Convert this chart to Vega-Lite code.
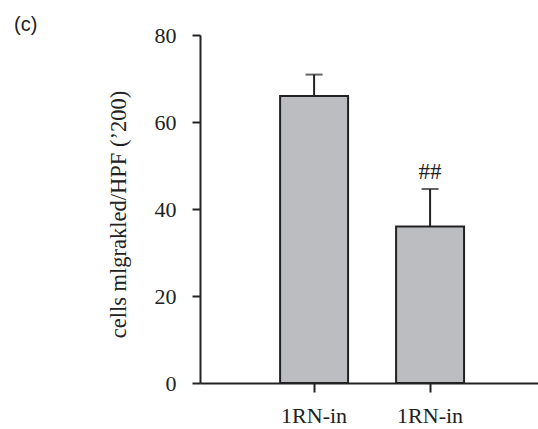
{
  "$schema": "https://vega.github.io/schema/vega-lite/v6.json",
  "autosize": "none",
  "width": 338,
  "height": 348,
  "padding": {"left": 200, "top": 35, "right": 0, "bottom": 46},
  "background": "white",
  "title": {
    "text": "(c)",
    "anchor": "start",
    "frame": "group",
    "font": "Liberation Sans",
    "fontSize": 20,
    "fontWeight": "normal",
    "color": "#222",
    "dx": -186,
    "offset": 0,
    "baseline": "middle",
    "dy": 21
  },
  "config": {
    "view": {"stroke": null},
    "axis": {
      "domainColor": "#222",
      "domainWidth": 2,
      "tickColor": "#222",
      "tickWidth": 2,
      "labelFont": "Liberation Serif",
      "labelFontSize": 22,
      "labelColor": "#222",
      "titleFont": "Liberation Serif",
      "titleFontSize": 22.5,
      "titleFontWeight": "normal",
      "titleColor": "#222",
      "grid": false
    }
  },
  "data": {
    "values": [
      {"group": "a", "label": "1RN-in", "value": 66.0, "upper": 70.9, "sig": ""},
      {"group": "b", "label": "1RN-in", "value": 36.0, "upper": 44.6, "sig": "##"}
    ]
  },
  "encoding": {
    "x": {
      "field": "group",
      "type": "nominal",
      "scale": {"domain": ["a", "b"], "paddingInner": 0.414, "paddingOuter": 0.664, "align": 0.52},
      "axis": {
        "title": null,
        "labelExpr": "'1RN-in'",
        "labelAngle": 0,
        "tickSize": 9,
        "labelPadding": 13,
        "labelBaseline": "top"
      }
    }
  },
  "layer": [
    {
      "mark": {"type": "rule", "color": "#222", "strokeWidth": 2},
      "encoding": {
        "y": {"field": "value", "type": "quantitative"},
        "y2": {"field": "upper"}
      }
    },
    {
      "mark": {"type": "tick", "color": "#222", "size": 17, "thickness": 2, "orient": "horizontal"},
      "encoding": {
        "y": {"field": "upper", "type": "quantitative"}
      }
    },
    {
      "mark": {"type": "bar", "fill": "#bcbdc1", "stroke": "#222", "strokeWidth": 2, "width": {"band": 1}},
      "encoding": {
        "y": {
          "field": "value",
          "type": "quantitative",
          "scale": {"domain": [0, 80], "nice": false},
          "axis": {
            "title": "cells mlgrakled/HPF (’200)",
            "values": [0, 20, 40, 60, 80],
            "tickSize": 8,
            "labelPadding": 16,
            "titleX": -82,
            "titleY": 179,
            "titleAngle": -90,
            "titleAlign": "center",
            "titleBaseline": "middle"
          }
        }
      }
    },
    {
      "transform": [{"filter": "datum.sig !== ''"}],
      "mark": {"type": "text", "font": "Liberation Serif", "fontSize": 23, "color": "#222", "dy": -17, "baseline": "middle"},
      "encoding": {
        "y": {"field": "upper", "type": "quantitative"},
        "text": {"field": "sig"}
      }
    }
  ]
}
